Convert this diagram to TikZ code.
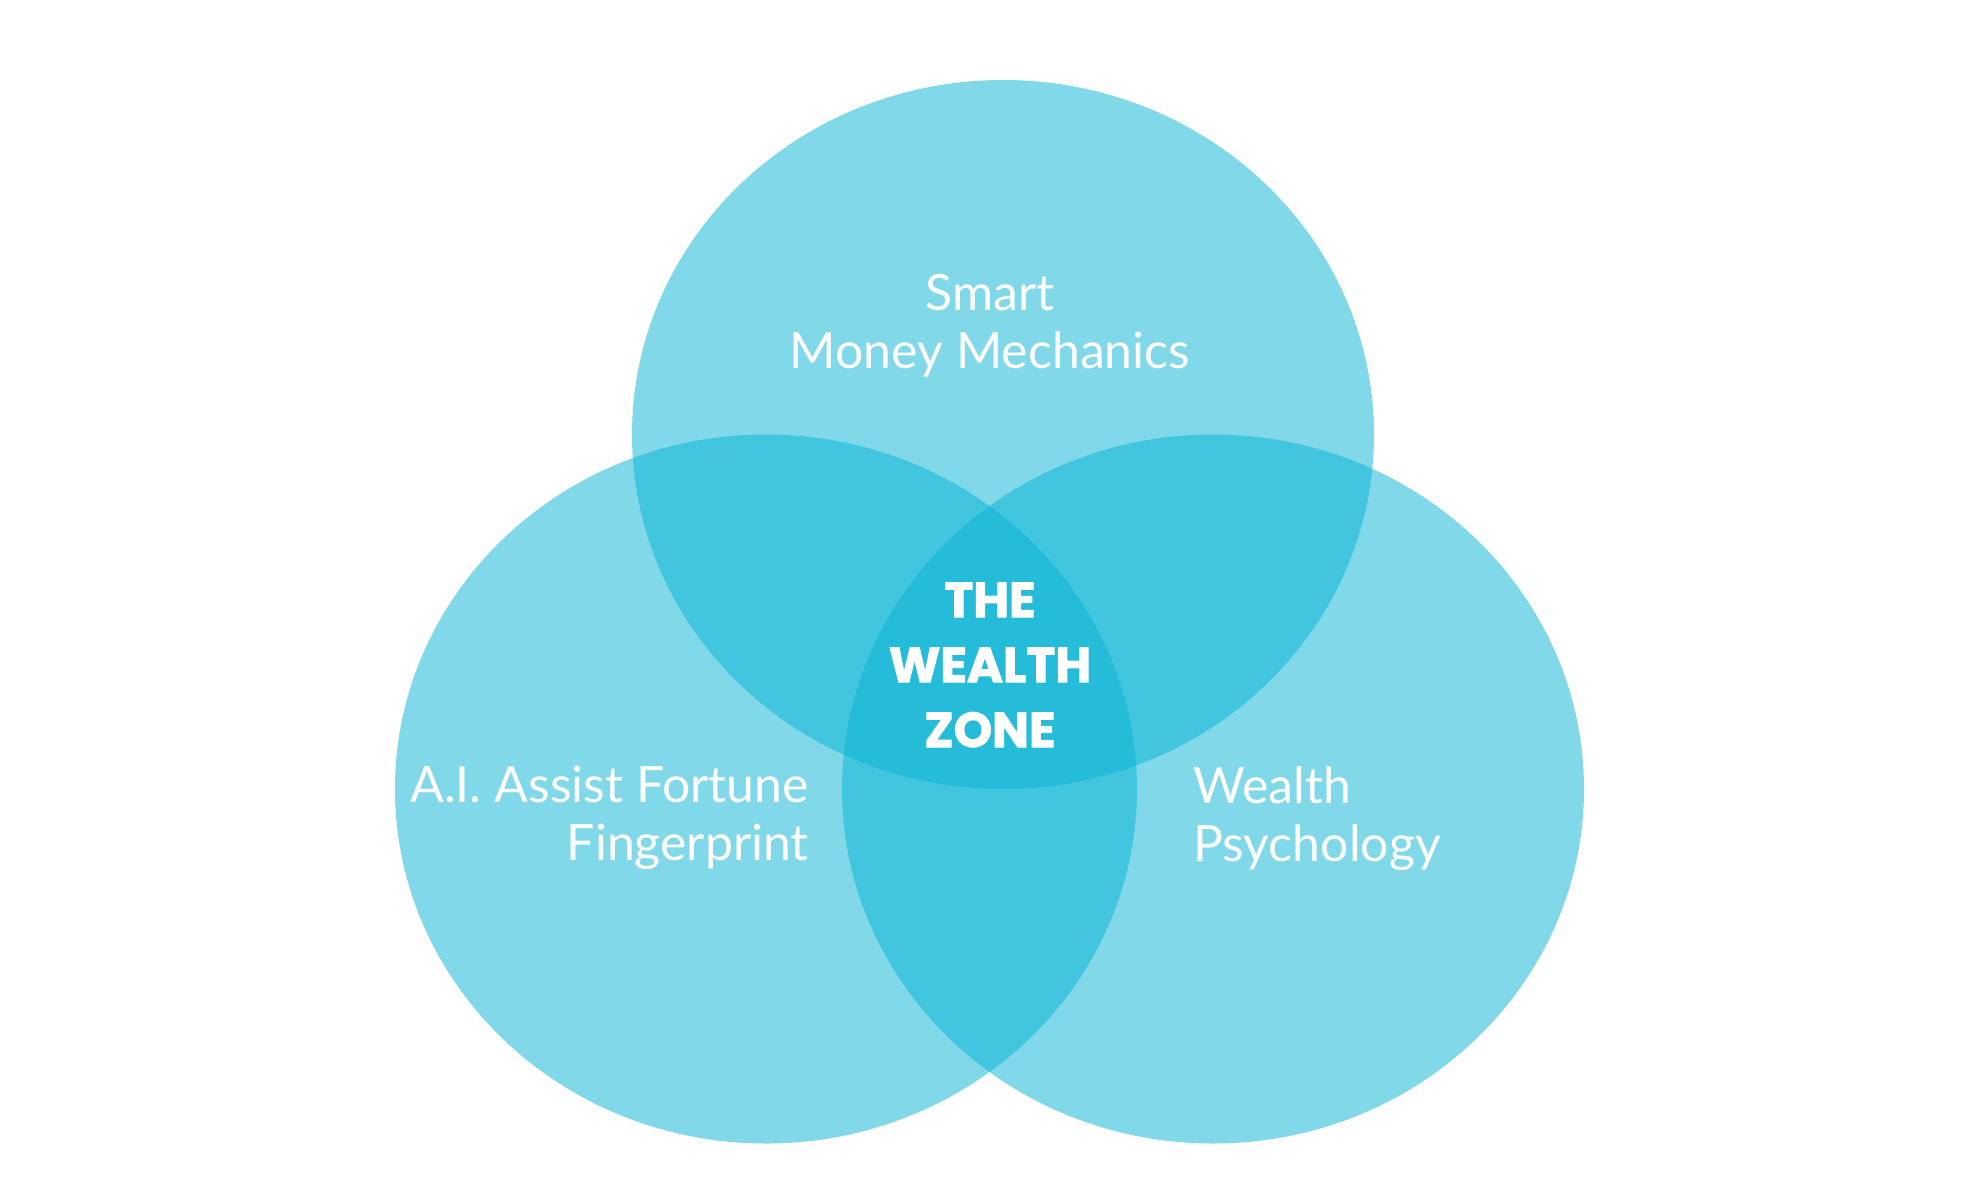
\documentclass[tikz,border=0pt]{standalone}
\usepackage{fontspec}
\setmainfont{Lato}
\newfontfamily\zonefont[BoldFeatures={FakeBold=2}]{Poppins}
\usetikzlibrary{positioning}

\definecolor{venncyan}{RGB}{7,179,212}

\begin{document}
\begin{tikzpicture}[
  x=1pt,y=-1pt,
  circ/.style={fill=venncyan,fill opacity=0.51,draw=none},
  label/.style={text=white,inner sep=0pt,font=\fontsize{50}{58}\selectfont},
  zone/.style={text=white,inner sep=0pt,align=center,
    font=\zonefont\bfseries\fontsize{49}{65}\selectfont}
]
  \useasboundingbox (0,0) rectangle (1980,1200);
  % the three sets
  \fill[circ] (1003,434.5) ellipse [x radius=371,y radius=354.5];
  \fill[circ] (766,789) ellipse [x radius=371,y radius=354.5];
  \fill[circ] (1213,789) ellipse [x radius=371,y radius=354.5];

  % labels
  \node[label,align=center,anchor=base] (money) at (990,368) {Smart\\Money Mechanics};
  \node[label,align=right,anchor=base east] (ai) at (809,860) {A.I. Assist Fortune\\Fingerprint};
  \node[label,align=left,anchor=base west] (psych) at (1193,861) {Wealth\\Psychology};
  \node[zone,anchor=base] (wealthzone) at (990,747) {THE\\WEALTH\\ZONE};
\end{tikzpicture}
\end{document}
